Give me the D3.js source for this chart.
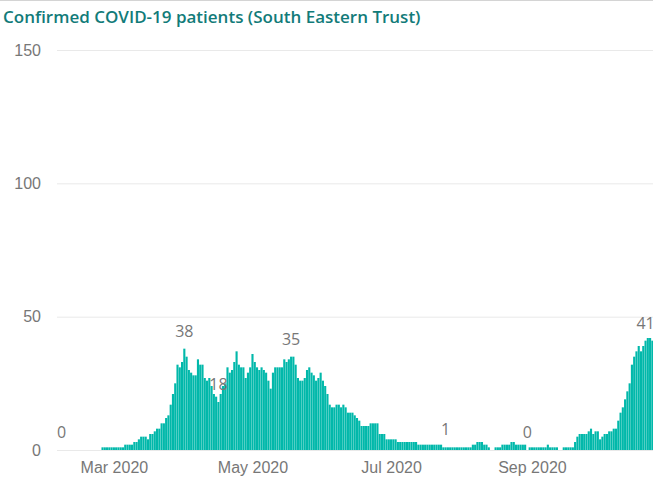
<!DOCTYPE html>
<html>
<head>
<meta charset="utf-8">
<script src="https://cdn.jsdelivr.net/npm/d3@7"></script>
<style>
  body { margin: 0; background: #fff; }
  svg { display: block; font-family: "Segoe UI", "Open Sans", sans-serif; }
  .title { font-size: 17px; font-weight: 600; fill: #127b79; }
  .tick text { font-size: 16px; fill: #777; }
  .dlabel { font-size: 16px; fill: #777; }
</style>
</head>
<body>
<div id="chart"></div>
<script>
// daily confirmed patients, starting 7 Feb 2020
const startDate = "2020-02-07";
const patients = [
  0,0,0,0,0,0,0,0,0,0,0,0,0,0,0,0,0,0,
  1,1,1,1,1,1,1,1,1,1,
  2,2,2,2,
  3,3,4,5,5,5,4,
  6,6,7,8,8,10,10,
  12,13,17,21,25,32,31,33,38,35,
  30,29,28,28,34,32,32,27,26,27,24,21,20,18,
  21,24,25,31,29,30,33,37,32,31,31,27,29,31,
  36,33,31,30,31,30,29,26,23,29,31,31,31,31,
  34,33,34,35,35,32,27,26,26,27,30,31,29,28,
  26,27,29,26,24,21,17,16,16,17,17,16,17,16,
  14,14,14,13,12,11,9,9,9,9,10,10,10,10,
  6,6,6,4,4,4,4,4,
  3,3,3,3,3,3,3,3,3,
  2,2,2,2,2,2,2,2,2,2,2,
  1,1,1,1,1,1,1,1,1,1,1,1,1,
  2,2,3,3,3,2,2,
  1,0,0,
  1,1,1,
  2,2,2,2,3,3,
  2,2,2,2,2,
  0,
  1,1,1,1,1,1,1,1,
  2,
  1,1,1,1,
  0,0,
  1,1,1,1,1,
  3,5,6,6,6,6,7,8,6,7,7,
  4,5,6,6,7,7,8,8,11,14,16,
  19,22,25,32,35,37,39,37,39,41,42,42,41
];
const labelDates = ["2020-02-07", "2020-04-01", "2020-04-16", "2020-05-18", "2020-07-25", "2020-08-30", "2020-10-21"];
const yTicks = [0, 50, 100, 150];
const xTicks = ["2020-03-01", "2020-05-01", "2020-07-01", "2020-09-01"];

const width = 653, height = 482;
const margin = { top: 50, right: 0, bottom: 32, left: 57 };

const parse = d3.utcParse("%Y-%m-%d");
const t0 = parse(startDate);
const data = patients.map((v, i) => ({ date: d3.utcDay.offset(t0, i), value: v }));

const svg = d3.select("#chart").append("svg")
  .attr("width", width)
  .attr("height", height);

// top border
svg.append("line")
  .attr("x1", 0).attr("x2", width)
  .attr("y1", 0.5).attr("y2", 0.5)
  .attr("stroke", "#d4d4d4");

svg.append("text")
  .attr("class", "title")
  .attr("x", 3)
  .attr("y", 23)
  .text("Confirmed COVID-19 patients (South Eastern Trust)");

const x = d3.scaleUtc()
  .domain([d3.utcHour.offset(t0, -12), d3.utcHour.offset(data[data.length - 1].date, 12)])
  .range([60.5, 653.5]);

const y = d3.scaleLinear()
  .domain([0, 150])
  .range([height - margin.bottom, margin.top]);

// gridlines + y labels
svg.append("g")
  .attr("transform", `translate(${margin.left},0)`)
  .call(d3.axisLeft(y)
    .tickValues(yTicks)
    .tickSize(-(width - margin.left))
    .tickPadding(16))
  .call(g => g.select(".domain").remove())
  .call(g => g.selectAll(".tick line").attr("stroke", "#e9e9e9"));

const dayW = x(d3.utcDay.offset(t0, 1)) - x(t0);
const bw = dayW * 0.93;

svg.append("g")
  .selectAll("rect")
  .data(data.filter(d => d.value > 0))
  .join("rect")
  .attr("x", d => x(d.date) - bw / 2)
  .attr("width", bw)
  .attr("y", d => y(d.value))
  .attr("height", d => y(0) - y(d.value))
  .attr("fill", "#01b8aa");

// x axis labels
svg.append("g")
  .attr("transform", `translate(0,${y(0)})`)
  .call(d3.axisBottom(x)
    .tickValues(xTicks.map(parse))
    .tickFormat(d3.utcFormat("%b %Y"))
    .tickSize(0)
    .tickPadding(12))
  .call(g => g.select(".domain").remove());

// data labels
const byDate = new Map(data.map(d => [+d.date, d.value]));
svg.append("g")
  .selectAll("text")
  .data(labelDates.map(s => ({ date: parse(s), value: byDate.get(+parse(s)) })))
  .join("text")
  .attr("class", "dlabel")
  .attr("text-anchor", "middle")
  .attr("x", d => x(d.date))
  .attr("y", d => y(d.value) - 12)
  .text(d => d.value);
</script>
</body>
</html>
